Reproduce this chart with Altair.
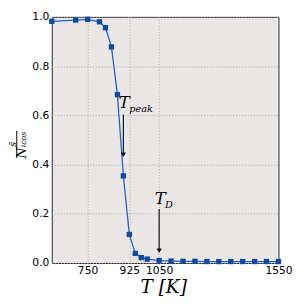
import altair as alt
import pandas as pd

temps = [600, 700, 750, 800, 825, 850, 875, 900, 925, 950, 975, 1000, 1050,
         1100, 1150, 1200, 1250, 1300, 1350, 1400, 1450, 1500, 1550]
ratio = [0.982, 0.987, 0.990, 0.980, 0.956, 0.878, 0.684, 0.354, 0.116, 0.039,
         0.022, 0.016, 0.010, 0.008, 0.007, 0.007, 0.006, 0.006, 0.006, 0.006,
         0.006, 0.006, 0.006]
x_ticks = [750, 925, 1050, 1550]
y_ticks = [0.0, 0.2, 0.4, 0.6, 0.8, 1.0]

arrow_x = [900, 1050]
arrow_top = [0.603, 0.219]
arrow_bottom = [0.44, 0.05]
label_main = ["T", "T"]
label_sub = ["peak", "D"]
label_y = [0.648, 0.258]
label_sub_y = [0.627, 0.236]

df = pd.DataFrame({"T": temps, "r": ratio})
arr = pd.DataFrame({"x": arrow_x, "y1": arrow_top, "y2": arrow_bottom,
                    "m": label_main, "s": label_sub, "ly": label_y, "sy": label_sub_y})

xs = alt.Scale(domain=[600, 1550], nice=False, zero=False)
ys = alt.Scale(domain=[0, 1], nice=False)
xax = alt.Axis(values=x_ticks, title=None, grid=True, gridDash=[1, 2], gridColor="#a8a8a8",
               labelFont="DejaVu Sans", labelFontSize=11, labelColor="#000", format="d",
               ticks=False, labelPadding=2, domain=False, labelFlush=False)
yax = alt.Axis(values=y_ticks, title=None, grid=True, gridDash=[1, 2], gridColor="#a8a8a8",
               labelFont="DejaVu Sans", labelFontSize=11, labelColor="#000", format=".1f",
               ticks=False, labelPadding=3, domain=False, labelFlush=False)

line = alt.Chart(df).mark_line(color="#1f5fc8", strokeWidth=1.3).encode(
    x=alt.X("T:Q", scale=xs, axis=xax), y=alt.Y("r:Q", scale=ys, axis=yax))
pts = alt.Chart(df).mark_point(shape="square", filled=True, size=30, color="#0d4aa0",
                               opacity=1).encode(x=alt.X("T:Q", scale=xs), y=alt.Y("r:Q", scale=ys))

rule = alt.Chart(arr).mark_rule(color="#111", strokeWidth=1.2).encode(
    x=alt.X("x:Q", scale=xs), y=alt.Y("y1:Q", scale=ys), y2="y2:Q")
head = alt.Chart(arr).mark_point(shape="triangle-down", filled=True, size=30, color="#111",
                                 opacity=1).encode(x=alt.X("x:Q", scale=xs), y=alt.Y("y2:Q", scale=ys))
tmain = alt.Chart(arr).mark_text(font="DejaVu Serif", fontStyle="italic", fontSize=17,
                                 color="#000", align="center", baseline="middle", dx=1).encode(
    x=alt.X("x:Q", scale=xs), y=alt.Y("ly:Q", scale=ys), text="m:N")
tsub = alt.Chart(arr).mark_text(font="DejaVu Serif", fontStyle="italic", fontSize=10,
                                color="#000", align="left", baseline="middle", dx=6).encode(
    x=alt.X("x:Q", scale=xs), y=alt.Y("sy:Q", scale=ys), text="s:N")

# axis titles drawn as text
xtitle = alt.Chart(pd.DataFrame({"t": ["T [K]"]})).mark_text(
    font="DejaVu Serif", fontStyle="italic", fontSize=19, color="#000",
    align="center", baseline="middle").encode(
    x=alt.value(115), y=alt.value(278), text="t:N")
ynum = alt.Chart(pd.DataFrame({"t": ["s̄"]})).mark_text(
    font="DejaVu Serif", fontStyle="italic", fontSize=10, color="#000", angle=270,
    align="center", baseline="middle").encode(
    x=alt.value(-40), y=alt.value(131), text="t:N")
ybar = alt.Chart(pd.DataFrame({"a": [0]})).mark_rule(color="#000", strokeWidth=1).encode(
    x=alt.value(-36), y=alt.value(117), y2=alt.value(145))
yden = alt.Chart(pd.DataFrame({"t": ["N"]})).mark_text(
    font="DejaVu Serif", fontStyle="italic", fontSize=13, color="#000", angle=270,
    align="center", baseline="middle").encode(
    x=alt.value(-30), y=alt.value(140), text="t:N")
ydsub = alt.Chart(pd.DataFrame({"t": ["icos"]})).mark_text(
    font="DejaVu Serif", fontStyle="italic", fontSize=8, color="#000", angle=270,
    align="center", baseline="middle").encode(
    x=alt.value(-28), y=alt.value(126), text="t:N")

chart = alt.layer(line, pts, rule, head, tmain, tsub, xtitle, ynum, ybar, yden, ydsub).properties(
    width=233, height=253,
    autosize=alt.AutoSizeParams(type="none"),
    padding={"left": 45, "top": 5, "right": 18, "bottom": 38},
    background="#ffffff",
).configure_view(fill="#ebe6e6", stroke="#222", strokeWidth=1)

chart.save("out.html", embed_options={"renderer": "svg", "actions": False})
